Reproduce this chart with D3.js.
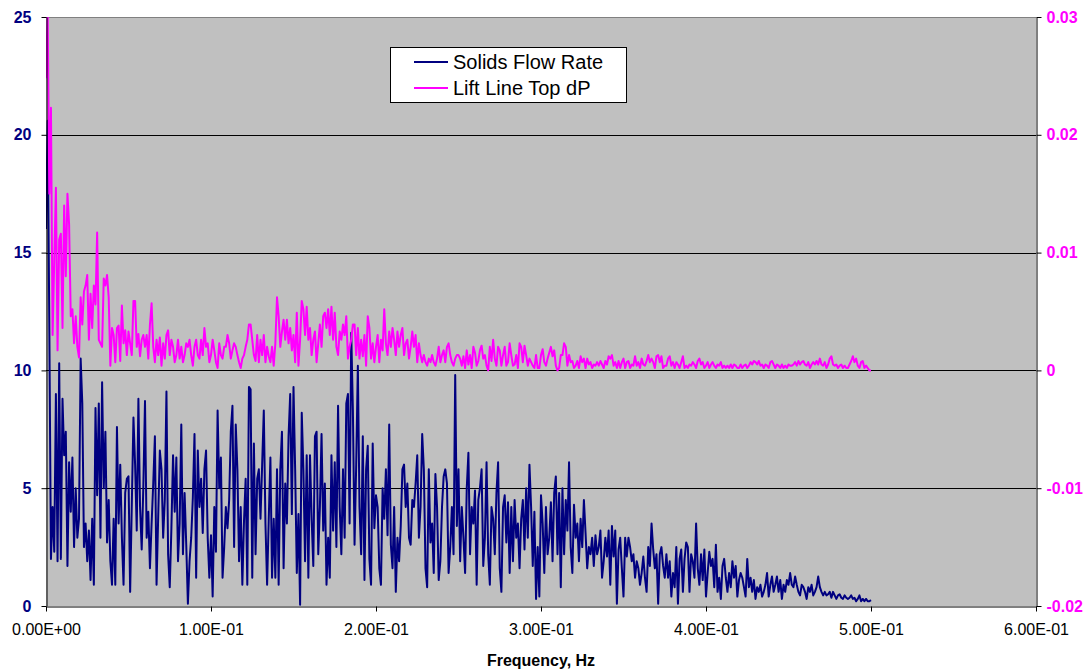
<!DOCTYPE html>
<html>
<head>
<meta charset="utf-8">
<script src="https://cdn.jsdelivr.net/npm/d3@7"></script>
<style>
  html, body { margin: 0; padding: 0; background: #ffffff; }
  svg { display: block; font-family: "Liberation Sans", Arial, sans-serif; }
</style>
</head>
<body>
<svg id="chart" width="1086" height="672"></svg>
<script>
// Spectrum bins: 0 to 0.5 Hz, one bin every 0.001 Hz
const binWidth = 0.001;

// Solids flow rate spectrum (left axis)
const solidsFlowRate = [
  16.0, 20.6, 12.0, 2.0, 4.2, 2.3, 9.0, 1.9, 10.3, 2.0, 8.8, 6.4, 7.4, 1.7, 6.1, 4.0, 6.3, 2.5, 5.0, 2.9,
  3.7, 10.5, 8.6, 2.5, 3.5, 1.9, 3.2, 1.1, 3.7, 0.9, 8.4, 4.7, 8.6, 2.9, 9.5, 5.0, 7.4, 2.7, 4.5, 1.9,
  0.9, 3.7, 0.9, 7.6, 3.5, 6.0, 2.9, 0.9, 4.8, 5.4, 5.5, 0.6, 4.3, 8.0, 6.0, 3.2, 8.8, 4.2, 2.4, 5.1,
  8.7, 2.9,
  4.0, 1.6, 3.5, 5.2, 7.2, 0.9, 3.8, 6.6, 5.8, 2.9, 4.5, 9.1, 2.2, 0.8, 3.3, 6.4, 4.0, 6.3, 1.9, 3.5,
  7.7, 2.2, 4.8, 2.6, 0.1, 1.9, 2.9, 4.6, 7.3, 1.2, 6.6, 4.2, 5.4, 3.1, 5.8, 6.6, 2.9, 1.2, 3.0, 0.4,
  4.2, 2.3, 8.3, 5.0, 6.3, 1.2, 2.5, 4.2, 3.3, 4.5, 7.4, 8.5, 2.5, 7.7, 5.8, 1.9, 4.2, 0.9, 3.6, 5.4,
  0.9, 9.3,
  9.2, 1.2, 6.9, 2.2, 5.4, 5.8, 3.7, 6.0, 8.3, 3.5, 0.9, 3.7, 6.3, 1.2, 3.7, 1.2, 5.8, 0.9, 5.8, 7.4,
  1.6, 5.2, 3.5, 7.2, 9.0, 3.9, 9.3, 5.8, 1.4, 3.9, 0.05, 8.2, 5.8, 1.9, 6.4, 1.2, 6.4, 3.7, 1.7, 7.2,
  7.4, 2.2, 4.2, 7.3, 3.2, 5.2, 0.9, 2.9, 1.2, 6.4, 3.2, 6.1, 2.5, 8.5, 4.2, 2.2, 5.8, 2.9, 8.6, 9.0,
  3.5, 11.6, 8.3,
  2.6, 6.0, 10.2, 4.2, 2.2, 7.2, 1.1, 5.8, 6.8, 2.0, 0.9, 6.9, 3.3, 4.7, 4.2, 1.6, 0.9, 5.0, 3.7, 5.8,
  3.0, 7.7, 2.6, 1.6, 4.2, 0.6, 2.9, 1.9, 3.4, 5.8, 6.0, 4.2, 5.2, 2.9, 2.6, 4.5, 4.2, 5.2, 6.4, 2.9,
  4.2, 7.3, 5.8, 1.6, 0.8, 5.8, 2.7, 3.5, 1.4, 5.6, 4.2, 1.1, 1.9, 4.2, 5.5, 5.8, 5.2, 1.4, 2.5, 4.2,
  2.2, 9.8, 3.4,
  5.8, 1.9, 4.2, 2.9, 1.4, 5.0, 6.5, 2.2, 4.2, 3.5, 4.9, 0.9, 4.5, 5.0, 5.8, 1.7, 2.9, 6.1, 2.2, 0.9,
  4.2, 3.7, 2.2, 4.8, 6.1, 1.6, 0.6, 4.2, 4.7, 2.7, 4.4, 1.4, 4.2, 1.9, 4.5, 2.9, 3.5, 1.6, 3.7, 4.5,
  2.4, 5.0, 2.9, 6.0, 4.2, 1.7, 4.0, 0.3, 2.5, 0.4, 4.7, 3.5, 1.4, 4.2, 2.2, 2.9, 4.4, 1.9, 4.8, 5.5,
  2.2, 4.8, 0.8,
  5.0, 2.2, 4.5, 3.2, 6.1, 2.5, 1.4, 4.3, 2.9, 3.5, 1.9, 3.7, 2.5, 4.5, 3.1, 1.6, 2.5, 2.2, 2.9, 1.7,
  3.0, 2.2, 2.5, 3.2, 1.2, 1.9, 2.9, 2.1, 3.2, 0.9, 3.4, 2.1, 3.2, 0.1, 2.4, 2.9, 1.6, 0.4, 2.9, 2.1,
  2.9, 2.5, 1.9, 2.2, 1.2, 1.9, 1.6, 0.9, 1.4, 2.1, 1.2, 0.6, 2.5, 1.7, 3.5, 2.4, 1.6, 2.2, 0.1, 2.2,
  2.5, 1.7, 1.2,
  2.2, 1.2, 1.9, 0.4, 1.4, 0.8, 2.5, 0.1, 2.0, 2.4, 0.6, 2.0, 2.7, 2.5, 0.6, 2.2, 1.9, 1.2, 3.5, 1.6,
  0.9, 2.2, 1.1, 2.4, 0.4, 1.4, 2.3, 1.7, 2.0, 0.8, 2.6, 0.6, 1.2, 0.3, 1.7, 2.0, 1.2, 0.6, 1.4, 0.8,
  1.9, 1.2, 1.7, 0.4, 1.1, 1.4, 1.2, 0.8, 0.4, 2.0, 0.8, 1.2, 0.6, 1.1, 0.3, 0.8, 0.6, 0.9, 0.4, 0.6,
  0.9, 1.4, 0.4,
  0.9, 1.25, 0.6, 0.9, 1.25, 0.6, 1.1, 0.3, 0.9, 0.6, 1.1, 0.9, 1.4, 0.9, 0.8, 1.25, 0.9, 0.6, 0.45, 0.9,
  0.8, 0.6, 0.3, 0.8, 0.6, 0.9, 0.45, 0.6, 0.8, 1.25, 0.8, 0.6, 0.45, 0.6, 0.45, 0.5, 0.6, 0.35, 0.6, 0.45,
  0.3, 0.45, 0.5, 0.35, 0.3, 0.45, 0.35, 0.3, 0.35, 0.45, 0.3, 0.35, 0.2, 0.3, 0.45, 0.2, 0.3, 0.2, 0.3, 0.2,
  0.2, 0.25
];

// Lift line top dP spectrum (right axis)
const liftLineTopDp = [
  0.0248, 0.0305, 0.0150, 0.0223, 0.0030, 0.0093, 0.0155, 0.0017, 0.0111, 0.0116, 0.0036, 0.0140, 0.0080, 0.0150, 0.0124, 0.0046, 0.0052, 0.0023, 0.0046, 0.0020,
  0.0011, 0.0062, 0.0039, 0.0067, 0.0072, 0.0081, 0.0026, 0.0065, 0.0036, 0.0072, 0.0056, 0.0117, 0.0026, 0.0023, 0.0020, 0.0078, 0.0072, 0.0081, 0.0062, 0.0004,
  0.0036, 0.0030, 0.0007, 0.0036, 0.0038, 0.0008, 0.0055, 0.0023, 0.0034, 0.0013, 0.0033, 0.0023, 0.0013, 0.0059, 0.0059, 0.0020, 0.0031, 0.0012, 0.0026, 0.0030,
  0.0020, 0.0030,
  0.0010, 0.0039, 0.0057, 0.0020, 0.0007, 0.0026, 0.0013, 0.0028, 0.0004, 0.0023, 0.0010, 0.0030, 0.0034, 0.0013, 0.0026, 0.0020, 0.0007, 0.0013, 0.0026, 0.0010,
  0.0020, 0.0007, 0.0013, 0.0023, 0.0020, 0.0026, 0.0013, 0.0004, 0.0020, 0.0026, 0.0013, 0.0010, 0.0026, 0.0013, 0.0036, 0.0020, 0.0023, 0.0007, 0.0013, 0.0026,
  0.0017, 0.0007, 0.0002, 0.0023, 0.0013, 0.0010, 0.0020, 0.0020, 0.0030, 0.0023, 0.0010, 0.0017, 0.0023, 0.0020, 0.0013, 0.0007, 0.0002, 0.0010, 0.0013, 0.0020,
  0.0026, 0.0039,
  0.0039, 0.0026, 0.0013, 0.0008, 0.0030, 0.0007, 0.0026, 0.0013, 0.0030, 0.0007, 0.0020, 0.0012, 0.0007, 0.0020, 0.0004, 0.0023, 0.0062, 0.0046, 0.0020, 0.0033,
  0.0043, 0.0026, 0.0043, 0.0023, 0.0036, 0.0017, 0.0030, 0.0007, 0.0049, 0.0004, 0.0026, 0.0059, 0.0052, 0.0030, 0.0054, 0.0026, 0.0036, 0.0013, 0.0026, 0.0033,
  0.0007, 0.0023, 0.0039, 0.0020, 0.0046, 0.0049, 0.0036, 0.0052, 0.0030, 0.0054, 0.0026, 0.0049, 0.0020, 0.0013, 0.0033, 0.0026, 0.0039, 0.0030, 0.0046, 0.0010,
  0.0020, 0.0026, 0.0039,
  0.0039, 0.0013, 0.0036, 0.0010, 0.0026, 0.0012, 0.0030, 0.0004, 0.0046, 0.0036, 0.0010, 0.0023, 0.0007, 0.0020, 0.0030, 0.0007, 0.0026, 0.0017, 0.0052, 0.0023,
  0.0013, 0.0033, 0.0020, 0.0036, 0.0026, 0.0013, 0.0033, 0.0020, 0.0030, 0.0036, 0.0013, 0.0023, 0.0026, 0.0010, 0.0020, 0.0033, 0.0020, 0.0030, 0.0007, 0.0023,
  0.0013, 0.0007, 0.0013, 0.0007, 0.0004, 0.0010, 0.0007, 0.0013, 0.0007, 0.0004, 0.0010, 0.0020, 0.0007, 0.0013, 0.0017, 0.0007, 0.0020, 0.0023, 0.0013, 0.0007,
  0.0004, 0.0010, 0.0013,
  0.0013, 0.0010, 0.0004, 0.0012, 0.0002, 0.0017, 0.0005, 0.0013, 0.0002, 0.0020, 0.0015, 0.0004, 0.0008, 0.0017, 0.0021, 0.0010, 0.0013, 0.0004, 0.0000, 0.0020,
  0.0008, 0.0026, 0.0010, 0.0004, 0.0020, 0.0017, 0.0004, 0.0013, 0.0020, 0.0004, 0.0007, 0.0023, 0.0013, 0.0004, 0.0005, 0.0013, 0.0002, 0.0023, 0.0020, 0.0007,
  0.0021, 0.0013, 0.0004, 0.0010, 0.0007, 0.0004, 0.0002, 0.0013, 0.0002, 0.0002, 0.0013, 0.0018, 0.0007, 0.0004, 0.0010, 0.0015, 0.0020, 0.0012, 0.0017, 0.0004,
  0.0000, 0.0002, 0.0013,
  0.0013, 0.0023, 0.0020, 0.0004, 0.0013, 0.0007, 0.0008, 0.0002, 0.0004, 0.0008, 0.0002, 0.0012, 0.0007, 0.0010, 0.0002, 0.0010, 0.0005, 0.0007, 0.0002, 0.0005,
  0.0004, 0.0007, 0.0004, 0.0008, 0.0005, 0.0002, 0.0008, 0.0005, 0.0012, 0.0010, 0.0013, 0.0004, 0.0007, 0.0002, 0.0008, 0.0002, 0.0007, 0.0010, 0.0002, 0.0007,
  0.0008, 0.0002, 0.0005, 0.0004, 0.0012, 0.0004, 0.0007, 0.0002, 0.0010, 0.0005, 0.0004, 0.0008, 0.0013, 0.0007, 0.0010, 0.0007, 0.0002, 0.0012, 0.0013, 0.0007,
  0.0012, 0.0002, 0.0004,
  0.0004, 0.0010, 0.0012, 0.0004, 0.0007, 0.0002, 0.0007, 0.0005, 0.0002, 0.0007, 0.0012, 0.0002, 0.0004, 0.0002, 0.0005, 0.0004, 0.0007, 0.0005, 0.0002, 0.0008,
  0.0010, 0.0005, 0.0007, 0.0002, 0.0004, 0.0007, 0.0002, 0.0005, 0.0007, 0.0004, 0.0002, 0.0005, 0.0004, 0.0007, 0.0002, 0.0004, 0.0002, 0.0004, 0.0002, 0.0005,
  0.0002, 0.0005, 0.0004, 0.0002, 0.0002, 0.0005, 0.0002, 0.0004, 0.0005, 0.0002, 0.0004, 0.0007, 0.0005, 0.0008, 0.0007, 0.0005, 0.0008, 0.0004, 0.0005, 0.0002,
  0.0005, 0.0004, 0.0002,
  0.0007, 0.0008, 0.0005, 0.0002, 0.0005, 0.0004, 0.0002, 0.0005, 0.0002, 0.0004, 0.0002, 0.0005, 0.0004, 0.0004, 0.0005, 0.0007, 0.0004, 0.0008, 0.0005, 0.0007,
  0.0008, 0.0005, 0.0004, 0.0007, 0.0002, 0.0005, 0.0007, 0.0005, 0.0008, 0.0005, 0.0010, 0.0005, 0.0004, 0.0007, 0.0002, 0.0005, 0.0010, 0.0012, 0.0005, 0.0004,
  0.0005, 0.0002, 0.0004, 0.0005, 0.0002, 0.0004, 0.0002, 0.0002, 0.0005, 0.0008, 0.0012, 0.0007, 0.0010, 0.0004, 0.0002, 0.0007, 0.0008, 0.0002, 0.0004, 0.0002,
  0.0000, 0.0000
];

// Axis ticks
const leftTicks = [0, 5, 10, 15, 20, 25];
const rightTicks = [-0.02, -0.01, 0, 0.01, 0.02, 0.03];
const rightTickLabels = ["-0.02", "-0.01", "0", "0.01", "0.02", "0.03"];
const freqTicks = [0, 0.1, 0.2, 0.3, 0.4, 0.5, 0.6];

const seriesNames = ["Solids Flow Rate", "Lift Line Top dP"];
const seriesColors = ["#000080", "#FF00FF"];

const svg = d3.select("#chart");
const plot = { left: 46, right: 1036, top: 17, bottom: 606 };

const x = d3.scaleLinear().domain([0, 0.6]).range([plot.left, plot.right]);
const yLeft = d3.scaleLinear().domain([0, 25]).range([plot.bottom, plot.top]);
const yRight = d3.scaleLinear().domain([-0.02, 0.03]).range([plot.bottom, plot.top]);

// Excel-style scientific labels, e.g. 1.00E-01
function sci(v) {
  const [m, e] = v.toExponential(2).split("e");
  const n = Math.abs(+e);
  return m + "E" + (+e < 0 ? "-" : "+") + (n < 10 ? "0" + n : n);
}

// Plot area
svg.append("rect")
  .attr("x", plot.left).attr("y", plot.top)
  .attr("width", plot.right - plot.left).attr("height", plot.bottom - plot.top)
  .attr("fill", "#C0C0C0");

// Horizontal gridlines
svg.append("g")
  .selectAll("line")
  .data(leftTicks.filter(t => t > 0 && t < 25))
  .join("line")
  .attr("x1", plot.left).attr("x2", plot.right)
  .attr("y1", d => Math.round(yLeft(d)) + 0.5).attr("y2", d => Math.round(yLeft(d)) + 0.5)
  .attr("stroke", "#000").attr("stroke-width", 1);

// Top border of the plot area
svg.append("line")
  .attr("x1", plot.left).attr("x2", plot.right)
  .attr("y1", plot.top + 0.5).attr("y2", plot.top + 0.5)
  .attr("stroke", "#808080").attr("stroke-width", 1);

// Series lines
svg.append("clipPath").attr("id", "plotClip")
  .append("rect")
  .attr("x", plot.left).attr("y", plot.top)
  .attr("width", plot.right - plot.left).attr("height", plot.bottom - plot.top);

const lines = svg.append("g").attr("clip-path", "url(#plotClip)");

const solidsLine = d3.line()
  .x((d, i) => x(i * binWidth))
  .y(d => yLeft(d));
const dpLine = d3.line()
  .x((d, i) => x(i * binWidth))
  .y(d => yRight(d));

lines.append("path")
  .datum(solidsFlowRate)
  .attr("d", solidsLine)
  .attr("fill", "none")
  .attr("stroke", seriesColors[0])
  .attr("stroke-width", 2)
  .attr("stroke-linejoin", "round");

lines.append("path")
  .datum(liftLineTopDp)
  .attr("d", dpLine)
  .attr("fill", "none")
  .attr("stroke", seriesColors[1])
  .attr("stroke-width", 2)
  .attr("stroke-linejoin", "round");

// Axes
const leftAxis = svg.append("g")
  .attr("transform", `translate(${plot.left + 0.5},0)`)
  .call(d3.axisLeft(yLeft).tickValues(leftTicks).tickSize(5).tickSizeOuter(0).tickPadding(10).tickFormat(d3.format("d")));
leftAxis.select(".domain").attr("stroke", "#000");
leftAxis.selectAll(".tick line").attr("stroke", "#000");
leftAxis.selectAll("text")
  .attr("fill", seriesColors[0])
  .style("font-size", "16px").style("font-weight", "bold");

const rightAxis = svg.append("g")
  .attr("transform", `translate(${plot.right + 0.5},0)`)
  .call(d3.axisRight(yRight).tickValues(rightTicks).tickSize(5).tickSizeOuter(0).tickPadding(5)
    .tickFormat((d, i) => rightTickLabels[i]));
rightAxis.select(".domain").attr("stroke", "#000");
rightAxis.selectAll(".tick line").attr("stroke", "#000");
rightAxis.selectAll("text")
  .attr("fill", seriesColors[1])
  .style("font-size", "16px").style("font-weight", "bold");

const bottomAxis = svg.append("g")
  .attr("transform", `translate(0,${plot.bottom + 0.5})`)
  .call(d3.axisBottom(x).tickValues(freqTicks).tickSize(5).tickSizeOuter(0).tickPadding(12).tickFormat(sci));
bottomAxis.select(".domain").attr("stroke", "#000");
bottomAxis.selectAll(".tick line").attr("stroke", "#000");
bottomAxis.selectAll("text")
  .attr("fill", "#000")
  .style("font-size", "16px");

svg.selectAll(".tick text").style("font-family", '"Liberation Sans", Arial, sans-serif');

// Axis title
svg.append("text")
  .attr("x", (plot.left + plot.right) / 2)
  .attr("y", 666)
  .attr("text-anchor", "middle")
  .style("font-size", "16px").style("font-weight", "bold")
  .text("Frequency, Hz");

// Legend
const legend = svg.append("g");
legend.append("rect")
  .attr("x", 390.5).attr("y", 47.5)
  .attr("width", 236).attr("height", 55)
  .attr("fill", "#fff").attr("stroke", "#000").attr("stroke-width", 1);

const rows = legend.selectAll("g.row")
  .data(seriesNames)
  .join("g")
  .attr("class", "row")
  .attr("transform", (d, i) => `translate(0,${62 + i * 26})`);
rows.append("line")
  .attr("x1", 414).attr("x2", 448)
  .attr("y1", 0).attr("y2", 0)
  .attr("stroke", (d, i) => seriesColors[i])
  .attr("stroke-width", 2);
rows.append("text")
  .attr("x", 453).attr("y", 0)
  .attr("dy", "0.35em")
  .style("font-size", "20px")
  .text(d => d);
</script>
</body>
</html>
